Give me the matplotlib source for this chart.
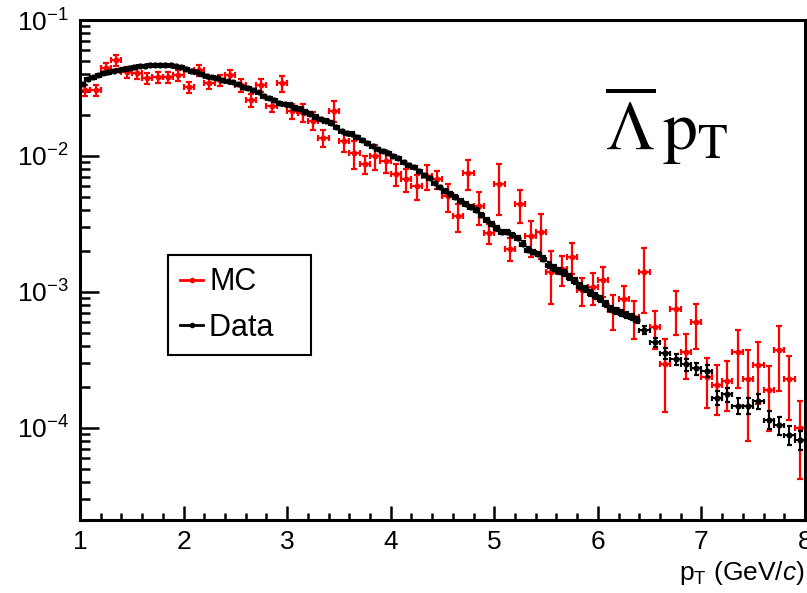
import numpy as np
import matplotlib
matplotlib.use("Agg")
import matplotlib.pyplot as plt
from matplotlib.lines import Line2D
from matplotlib.ticker import LogLocator, MultipleLocator, LogFormatterSciNotation, NullFormatter

plt.rcParams['font.family'] = ['Liberation Sans', 'DejaVu Sans']
plt.rcParams['mathtext.fontset'] = 'custom'
plt.rcParams['mathtext.rm'] = 'Liberation Sans'
plt.rcParams['mathtext.it'] = 'Liberation Sans:italic'

# ---- data ----
# Data: 0.05 GeV bins from 1.0 to 6.4, then 0.1 GeV bins up to 8.0
data_edges = np.unique(np.round(np.concatenate([np.linspace(1.0, 6.4, 109),
                                                np.linspace(6.4, 8.0, 17)]), 3))
data_y = [
    0.0336, 0.0366, 0.0378, 0.0391, 0.0405, 0.0412, 0.0419, 0.0426, 0.0434, 0.0441,
    0.0449, 0.0456, 0.0456, 0.0464, 0.0464, 0.0464, 0.0464, 0.0464, 0.0456, 0.0449,
    0.0434, 0.0419, 0.0412, 0.0398, 0.0385, 0.0378, 0.0372, 0.0359, 0.0353, 0.0347,
    0.0336, 0.0324, 0.0314, 0.0303, 0.0293, 0.0278, 0.0269, 0.0260, 0.0247, 0.0243,
    0.0239, 0.0227, 0.0223, 0.0212, 0.0205, 0.0195, 0.0188, 0.0182, 0.0176, 0.0164,
    0.0153, 0.0148, 0.0146, 0.0138, 0.0131, 0.0125, 0.0119, 0.0113, 0.0109, 0.0105,
    0.0100, 0.00966, 0.00903, 0.00858, 0.00829, 0.00774, 0.00723, 0.00687, 0.00631, 0.00589,
    0.00550, 0.00523, 0.00497, 0.00464, 0.00441, 0.00419, 0.00398, 0.00366, 0.00336, 0.00314,
    0.00293, 0.00278, 0.00274, 0.00264, 0.00251, 0.00227, 0.00205, 0.00198, 0.00191, 0.00176,
    0.00158, 0.00151, 0.00143, 0.00138, 0.00129, 0.00121, 0.00111, 0.00105, 0.00098, 0.000934,
    0.000887, 0.000815, 0.000748, 0.000723, 0.000699, 0.000676, 0.000653, 0.000620,
    # 0.1 GeV bins
    0.000523, 0.000426, 0.000353, 0.000319, 0.000293, 0.000274, 0.000264, 0.000167,
    0.000176, 0.000146, 0.000146, 0.000158, 0.000115, 0.000105, 0.0000887, 0.0000815,
]
data_rel_err = ([0.015] * 40 + [0.02] * 30 + [0.035] * 20 + [0.05] * 18 +
                [0.07, 0.08, 0.09, 0.09, 0.10, 0.10, 0.10, 0.12,
                 0.12, 0.13, 0.13, 0.13, 0.15, 0.15, 0.16, 0.16])

# MC: 0.1 GeV bins from 1.0 to 8.0
mc_edges = np.round(np.linspace(1.0, 8.0, 71), 3)
mc_y = [
    0.0303, 0.0303, 0.0441, 0.0506, 0.0412, 0.0405, 0.0372, 0.0378, 0.0378, 0.0391,
    0.0319, 0.0426, 0.0342, 0.0359, 0.0391, 0.0330, 0.0256, 0.0330, 0.0235, 0.0342,
    0.0215, 0.0208, 0.0182, 0.0136, 0.0215, 0.0129, 0.0105, 0.00873, 0.0100, 0.00918,
    0.00736, 0.00675, 0.00599, 0.00711, 0.00675, 0.00505, 0.00359, 0.00748, 0.00426, 0.00269,
    0.00620, 0.00208, 0.00441, 0.00256, 0.00274, 0.00141, 0.00148, 0.00182, 0.00103, 0.00109,
    0.00123, 0.000736, 0.000887, 0.000653, 0.00141, 0.000550, 0.000293, 0.000748, 0.000359, 0.000599,
    0.000235, 0.000208, 0.000223, 0.000359, 0.000227, 0.000288, 0.000191, 0.000372, 0.000227, 0.000100,
]
mc_rel_err = [
    0.09, 0.09, 0.09, 0.09, 0.09, 0.09, 0.09, 0.09, 0.09, 0.09,
    0.09, 0.09, 0.09, 0.09, 0.09, 0.11, 0.11, 0.11, 0.11, 0.13,
    0.13, 0.15, 0.15, 0.15, 0.17, 0.17, 0.23, 0.15, 0.21, 0.19,
    0.19, 0.19, 0.21, 0.21, 0.15, 0.23, 0.23, 0.25, 0.27, 0.17,
    0.41, 0.19, 0.27, 0.29, 0.36, 0.42, 0.25, 0.25, 0.23, 0.27,
    0.25, 0.29, 0.25, 0.31, 0.50, 0.31, 0.55, 0.36, 0.36, 0.36,
    0.40, 0.40, 0.40, 0.45, 0.65, 0.48, 0.50, 0.50, 0.50, 0.58,
]


def centers_and_halfwidths(edges):
    edges = np.asarray(edges)
    return (edges[:-1] + edges[1:]) / 2, (edges[1:] - edges[:-1]) / 2


def main():
    fig = plt.figure(figsize=(8.07, 5.93), dpi=100)
    ax = fig.add_axes([80 / 807, 1 - 520 / 593, 725 / 807, 500 / 593])

    mx, mxe = centers_and_halfwidths(mc_edges)
    my = np.array(mc_y)
    ax.errorbar(mx, my, xerr=mxe, yerr=my * np.array(mc_rel_err), fmt='o', color='#ff0000',
                ms=3.2, elinewidth=1.6, capsize=2.2, capthick=1.6, zorder=2)

    dx, dxe = centers_and_halfwidths(data_edges)
    dy = np.array(data_y)
    ax.errorbar(dx, dy, xerr=dxe, yerr=dy * np.array(data_rel_err), fmt='o', color='black',
                ms=3.4, elinewidth=1.4, capsize=1.8, capthick=1.6, zorder=3)

    ax.set_yscale('log')
    ax.set_xlim(1, 8)
    ax.set_ylim(2.1e-5, 0.1)

    ax.xaxis.set_major_locator(MultipleLocator(1))
    ax.xaxis.set_minor_locator(MultipleLocator(0.2))
    ax.yaxis.set_major_locator(LogLocator(base=10))
    ax.yaxis.set_minor_locator(LogLocator(base=10, subs=np.arange(2, 10)))
    ax.yaxis.set_major_formatter(LogFormatterSciNotation())
    ax.yaxis.set_minor_formatter(NullFormatter())

    ax.tick_params(which='both', direction='in', top=False, right=False, width=1.8)
    ax.tick_params(axis='y', which='major', length=14, pad=8, labelsize=19)
    ax.tick_params(axis='y', which='minor', length=7)
    ax.tick_params(axis='x', which='major', length=10, pad=7, labelsize=19)
    ax.tick_params(axis='x', which='minor', length=5)
    for s in ax.spines.values():
        s.set_linewidth(2.2)

    ax.set_xlabel(r'p$_{\mathrm{T}}$ (GeV/$c$)', fontsize=19)
    ax.xaxis.set_label_coords(1.0, -0.106)
    ax.xaxis.label.set_horizontalalignment('right')
    ax.xaxis.label.set_verticalalignment('center')

    ax.text(0.724, 0.74, r'$\overline{\Lambda}\,\mathrm{p}_{\mathrm{T}}$', transform=ax.transAxes,
            fontsize=50, math_fontfamily='stix', ha='left', va='baseline')

    handles = [Line2D([0], [0], color='#ff0000', marker='o', ms=3, lw=2),
               Line2D([0], [0], color='black', marker='o', ms=3, lw=2)]
    leg = ax.legend(handles, ['MC', 'Data   '], loc='upper left', bbox_to_anchor=(0.1214, 0.53),
                    fontsize=22, handlelength=0.75, handletextpad=0.2, labelspacing=0.5,
                    borderpad=0.4, borderaxespad=0, fancybox=False, framealpha=1,
                    edgecolor='black')
    leg.get_frame().set_linewidth(1.5)

    fig.savefig('out.png', dpi=100)


if __name__ == "__main__":
    main()
